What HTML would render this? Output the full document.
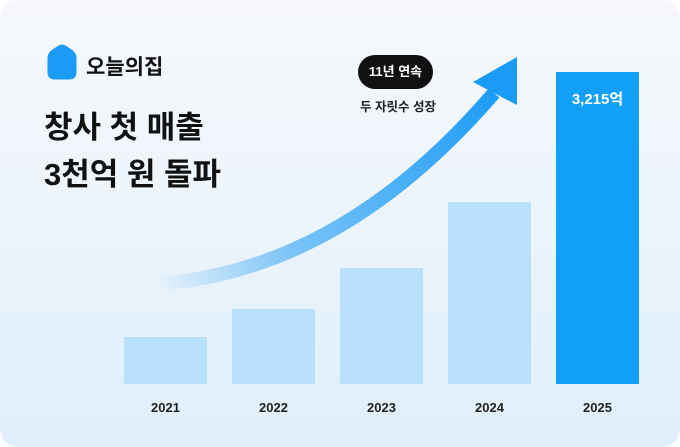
<!DOCTYPE html>
<html><head><meta charset="utf-8"><style>
html,body{margin:0;padding:0}
body{width:680px;height:447px;overflow:hidden;background:#fff}
.card{position:absolute;left:0;top:0;width:680px;height:447px;border-radius:18px;overflow:hidden;
background:linear-gradient(180deg,#f6f8fb 0%,#eef5fb 40%,#dfeffb 100%);font-family:"Liberation Sans","Noto Sans CJK KR",sans-serif}
.t{position:absolute;color:#111;font-weight:700;white-space:nowrap}
.bar{position:absolute;background:#b9e1fb;bottom:63px;width:83px}
.yr{position:absolute;top:400px;width:83px;text-align:center;font-size:13px;font-weight:700;color:#222}
</style></head><body><div class="card">
<svg width="680" height="447" style="position:absolute;left:0;top:0">
<defs><linearGradient id="g" x1="155" y1="285" x2="500" y2="90" gradientUnits="userSpaceOnUse">
<stop offset="0" stop-color="#1a9bf5" stop-opacity="0"/><stop offset="0.35" stop-color="#1a9bf5" stop-opacity="0.55"/><stop offset="1" stop-color="#1a9bf5"/></linearGradient></defs>
<path d="M49,58 Q49,54 53,51 L59,47 Q62,45 65,47 L71,51 Q75,54 75,58 L75,72 Q75,78 69,78 L55,78 Q49,78 49,72 Z" fill="#1a9bf5" stroke="#1a9bf5" stroke-width="3" stroke-linejoin="round"/>
<path d="M155,284 Q340,272 494,93" fill="none" stroke="url(#g)" stroke-width="14"/>
<polygon points="473,82 517,57 517,105" fill="#1a9bf5"/>
</svg>
<div class="t" style="left:86px;top:51px;font-size:21px">오늘의집</div>
<div class="t" style="left:44px;top:104px;font-size:31px;line-height:47px">창사 첫 매출<br>3천억 원 돌파</div>
<div style="position:absolute;left:358px;top:55px;width:75px;height:34px;border-radius:17px;background:#111;color:#fff;font-size:13px;font-weight:700;text-align:center;line-height:34px">11년 연속</div>
<div class="t" style="left:360px;top:96px;font-size:12.5px;color:#222">두 자릿수 성장</div>
<div class="bar" style="left:124px;height:47px"></div>
<div class="bar" style="left:232px;height:75px"></div>
<div class="bar" style="left:340px;height:116px"></div>
<div class="bar" style="left:448px;height:182px"></div>
<div class="bar" style="left:556px;height:312px;background:#12a0f7"></div>
<div class="t" style="left:556px;top:88px;width:83px;text-align:center;color:#fff;font-size:15px">3,215억</div>
<div class="yr" style="left:124px">2021</div>
<div class="yr" style="left:232px">2022</div>
<div class="yr" style="left:340px">2023</div>
<div class="yr" style="left:448px">2024</div>
<div class="yr" style="left:556px">2025</div>
</div></body></html>
